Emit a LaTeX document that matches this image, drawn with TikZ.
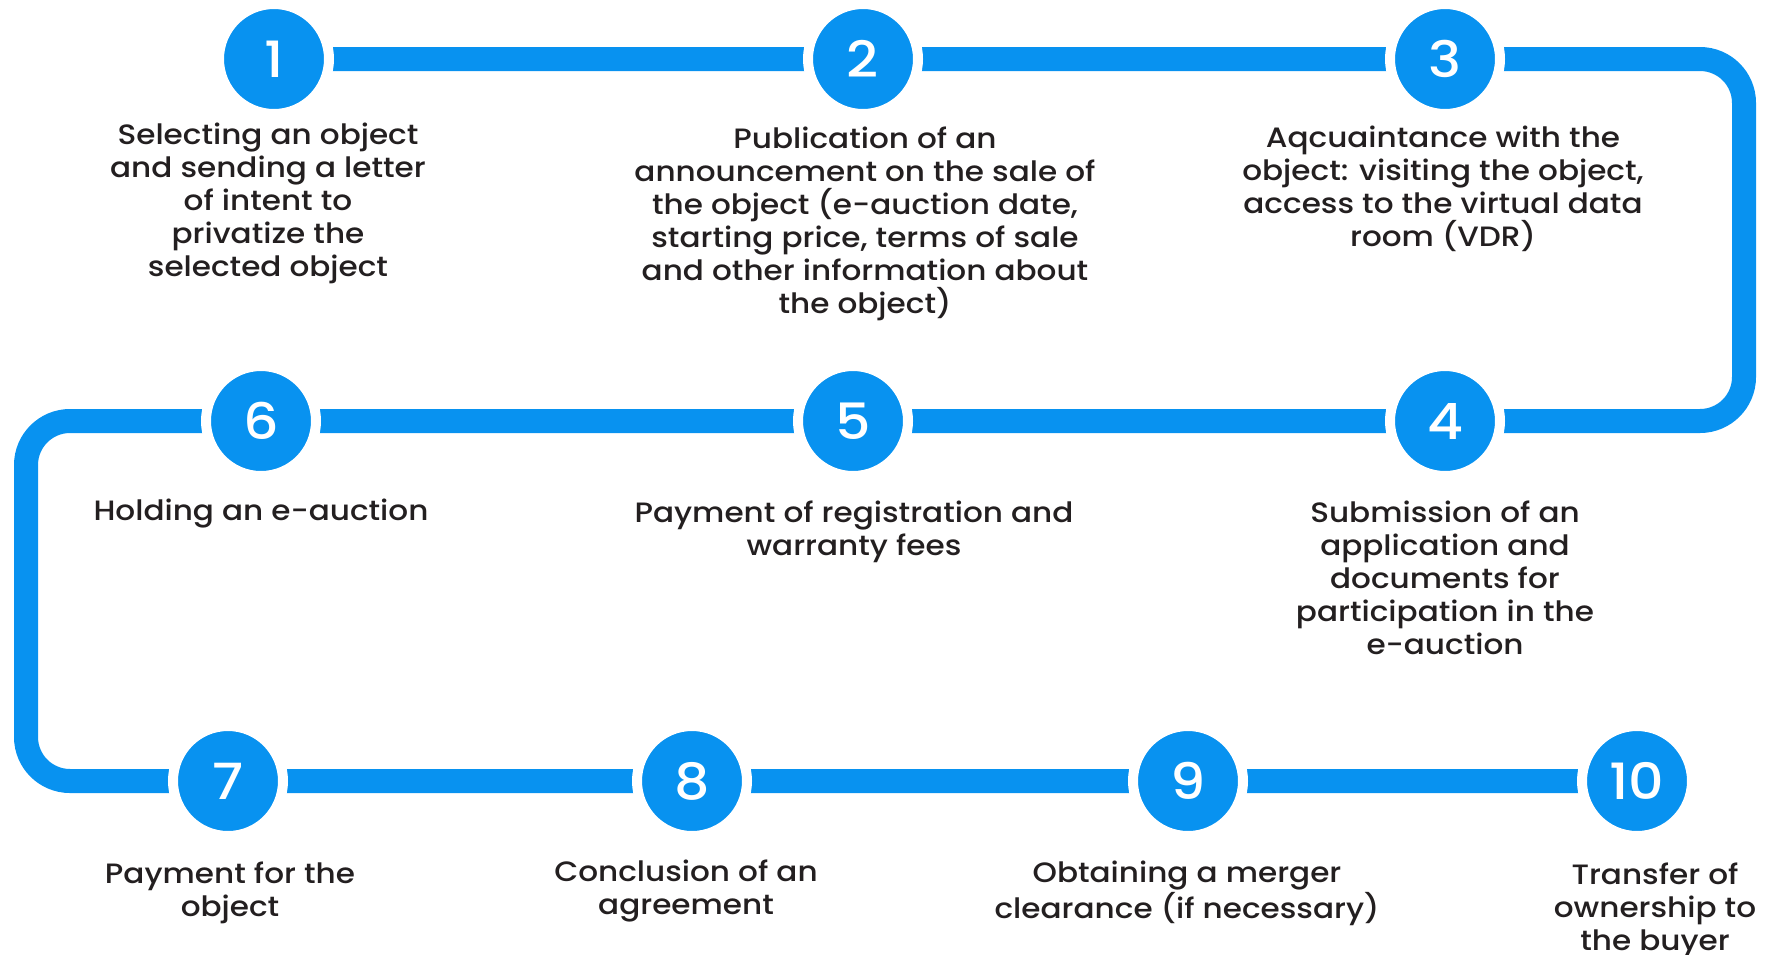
\documentclass[tikz,border=0pt]{standalone}
\usepackage{fontspec}
\setmainfont{Poppins}[UprightFont={* Medium},BoldFont={* SemiBold},FakeStretch=1.11]
\definecolor{cblue}{RGB}{8,146,240}
\definecolor{ctext}{RGB}{35,31,32}
\begin{document}
\begin{tikzpicture}[x=0.5pt,y=-0.5pt,
  num/.style={circle, fill=cblue, draw=white, line width=5pt, minimum size=55pt, inner sep=0pt,
    text=white, font=\fontsize{25}{25}\selectfont},
  desc/.style={anchor=north, align=center, text=ctext, inner sep=0pt,
    font=\fontsize{14}{16.5}\selectfont},
  track/.style={draw=cblue, line width=12pt, rounded corners=22pt}]
\useasboundingbox (0,0) rectangle (1773,954);
% corner coordinates
\coordinate (k1) at (1744,59);
\coordinate (k2) at (1744,421);
\coordinate (k3) at (26,421);
\coordinate (k4) at (26,781);
% circle positions
\coordinate (p1) at (274,59);
\coordinate (p10) at (1637,781);
\draw[track] (p1) -- (k1) -- (k2) -- (k3) -- (k4) -- (p10);
\node[num] (c1) at (274,59) {1};
\node[num] (c2) at (863,59) {2};
\node[num] (c3) at (1445,59) {3};
\node[num] (c4) at (1445,421) {4};
\node[num] (c5) at (853,421) {5};
\node[num] (c6) at (261,421) {6};
\node[num] (c7) at (228,781) {7};
\node[num] (c8) at (692,781) {8};
\node[num] (c9) at (1188,781) {9};
\node[num] (c10) at (1637,781) {10};
\node[desc] (t1) at (268,123) {Selecting an object\\and sending a letter\\of intent to\\privatize the\\selected object};
\node[desc] (t2) at (865,126) {Publication of an\\announcement on the sale of\\the object (e-auction date,\\starting price, terms of sale\\and other information about\\the object)};
\node[desc] (t3) at (1443,126) {Aqcuaintance with the\\object: visiting the object,\\access to the virtual data\\room (VDR)};
\node[desc] (t4) at (1445,500) {Submission of an\\application and\\documents for\\participation in the\\e-auction};
\node[desc] (t5) at (854,500) {Payment of registration and\\warranty fees};
\node[desc] (t6) at (261,499) {Holding an e-auction};
\node[desc] (t7) at (230,861) {Payment for the\\object};
\node[desc] (t8) at (686,859) {Conclusion of an\\agreement};
\node[desc] (t9) at (1187,861) {Obtaining a merger\\clearance (if necessary)};
\node[desc] (t10) at (1655,862) {Transfer of\\ownership to\\the buyer};
\end{tikzpicture}
\end{document}
